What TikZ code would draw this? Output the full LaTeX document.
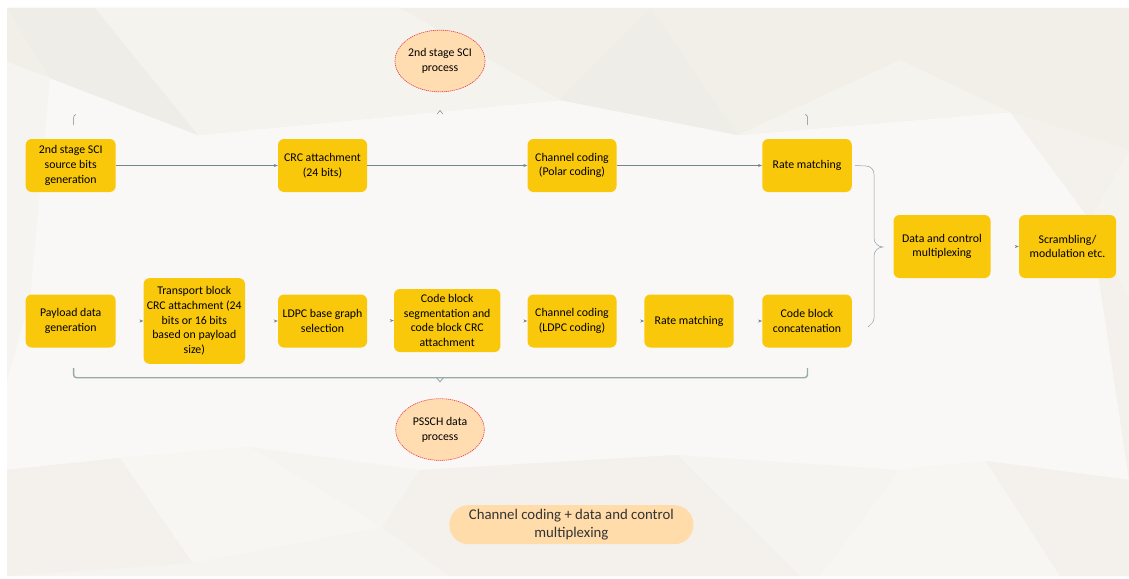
\documentclass[tikz,border=0pt]{standalone}
\usepackage{fontspec}
\setmainfont{Carlito}
\usetikzlibrary{arrows.meta,shapes.geometric,calc}
\definecolor{boxy}{HTML}{FAC80A}
\definecolor{peach}{HTML}{FFDDB0}
\definecolor{banner}{HTML}{FFDCAA}
\definecolor{redb}{HTML}{E8343C}
\definecolor{linec}{HTML}{6F878D}
\definecolor{bracec}{HTML}{98A9AC}
\definecolor{bglight}{HTML}{F9F8F6}
\definecolor{bgA}{HTML}{F2EFE8}
\definecolor{bgB}{HTML}{EFEDE7}
\definecolor{bgC}{HTML}{F5F3EE}
\definecolor{bgD}{HTML}{F4F1EC}
\definecolor{bgE}{HTML}{F6F4F0}
\begin{document}
\begin{tikzpicture}[x=1pt,y=-1pt,
  procbox/.style={rectangle, rounded corners=6pt, fill=boxy, draw=none, align=center,
    font=\fontsize{11.8}{14.7}\selectfont, inner sep=1pt, text=black},
  procell/.style={ellipse, fill=peach, draw=redb, line width=0.6pt, dash pattern=on 1.2pt off 0.8pt,
    minimum width=88.6pt, minimum height=61.7pt, inner sep=0pt, align=center,
    font=\fontsize{11.8}{14.7}\selectfont},
  conn/.style={draw=linec, line width=0.6pt, -{Stealth[length=4pt,width=3pt]}},
  ghost/.style={draw=bglight, line width=0.6pt, -{Stealth[length=4pt,width=3pt,color=linec]}},
  bracebig/.style={draw=bracec, line width=1.4pt},
  bracethin/.style={draw=linec, line width=0.5pt}
]
\useasboundingbox (0,0) rectangle (1129,578);
\fill[white] (0,0) rectangle (1129,578);
\fill[bglight] (7,8) rectangle (1129,576);
% background low-poly shapes
\fill[bgA] (7,8) -- (1129,8) -- (1129,150) -- (1010,112) -- (738,135) -- (560,100) -- (198,135) -- (50,78) -- (7,62) -- cycle;
\fill[bgB] (7,8) -- (95,8) -- (198,135) -- (50,78) -- cycle;
\fill[bgC] (95,8) -- (400,8) -- (560,100) -- (198,135) -- cycle;
\fill[bgB] (560,100) -- (650,8) -- (738,135) -- cycle;
\fill[bgC] (738,135) -- (900,60) -- (1010,112) -- cycle;
\fill[bgD] (1010,112) -- (1129,150) -- (1129,480) -- (1090,220) -- cycle;
\fill[bgC] (1129,150) -- (1129,300) -- (1090,220) -- cycle;
\fill[bgE] (7,62) -- (50,78) -- (30,300) -- (7,380) -- cycle;
\fill[bgE] (7,470) -- (120,458) -- (250,447) -- (420,470) -- (677,455) -- (900,470) -- (986,461) -- (1129,480) -- (1129,576) -- (7,576) -- cycle;
\fill[bgD] (7,470) -- (120,458) -- (193,563) -- (7,576) -- cycle;
\fill[bgE!60!bglight] (250,447) -- (382,527) -- (193,563) -- (120,458) -- cycle;
\fill[bgD] (382,527) -- (420,470) -- (677,455) -- (800,576) -- (450,576) -- cycle;
\fill[bgE!60!bglight] (900,470) -- (986,461) -- (1060,576) -- (820,576) -- cycle;
\fill[bgD] (986,461) -- (1129,480) -- (1129,576) -- (1060,576) -- cycle;

% nodes
\node[procbox, minimum width=90pt, minimum height=53pt] (src) at (70.7,165.5) {2nd stage SCI\\source bits\\generation};
\node[procbox, minimum width=89pt, minimum height=53pt] (crc) at (322.5,165.5) {CRC attachment\\(24 bits)};
\node[procbox, minimum width=89pt, minimum height=53pt] (polar) at (572,165.5) {Channel coding\\(Polar coding)};
\node[procbox, minimum width=89.5pt, minimum height=53pt] (rm1) at (807,165.5) {Rate matching};
\node[procbox, minimum width=97pt, minimum height=63pt] (dcm) at (942,246.5) {Data and control\\multiplexing};
\node[procbox, minimum width=97pt, minimum height=63pt] (scr) at (1067.5,246.5) {Scrambling/\\modulation etc.};
\node[procbox, minimum width=90pt, minimum height=53pt] (pay) at (70.7,321) {Payload data\\generation};
\node[procbox, minimum width=101.4pt, minimum height=85.7pt] (tb) at (194.3,321) {Transport block\\CRC attachment (24\\bits or 16 bits\\based on payload\\size)};
\node[procbox, minimum width=89pt, minimum height=53pt] (ldpcb) at (322.5,321) {LDPC base graph\\selection};
\node[procbox, minimum width=106.4pt, minimum height=63pt] (cbs) at (447.2,320.5) {Code block\\segmentation and\\code block CRC\\attachment};
\node[procbox, minimum width=89pt, minimum height=53pt] (chl) at (572,321) {Channel coding\\(LDPC coding)};
\node[procbox, minimum width=89.3pt, minimum height=53pt] (rm2) at (689,321) {Rate matching};
\node[procbox, minimum width=89.5pt, minimum height=53pt] (cbc) at (807,321) {Code block\\concatenation};
\node[procell] (e1) at (440,61) {2nd stage SCI\\process};
\node[procell] (e2) at (440,429.5) {PSSCH data\\process};
\node[rectangle, rounded corners=19pt, fill=banner, minimum width=244pt, minimum height=39pt, inner sep=0pt,
  align=center, text=black!80, font=\fontsize{14.8}{18.7}\selectfont] (ban) at (571.4,524.7) {Channel coding + data and control\\multiplexing};

% top row connectors
\draw[conn] (src.east) -- (crc.west);
\draw[conn] (crc.east) -- (polar.west);
\draw[conn] (polar.east) -- (rm1.west);
% bottom row connectors (tips only visible)
\draw[ghost] (pay.east) -- (tb.west);
\draw[ghost] (tb.east) -- (ldpcb.west);
\draw[ghost] (ldpcb.east) -- (cbs.west);
\draw[ghost] (cbs.east) -- (chl.west);
\draw[ghost] (chl.east) -- (rm2.west);
\draw[ghost] (rm2.east) -- (cbc.west);
\draw[ghost] (dcm.east) -- (scr.west);

% bottom brace
\draw[bracebig, rounded corners=3pt] (73.6,368) -- (73.6,377.7) -- (807.5,377.7) -- (807.5,368);
\draw[bracebig, line width=0.9pt] (436.5,377.7) -- (440,381.8) -- (443.5,377.7);
% top brace fragments
\draw[bracethin] (75.8,114.5) to[out=180,in=90] (73.6,118) -- (73.6,125);
\draw[bracethin] (805.3,114.5) to[out=0,in=90] (807.5,118) -- (807.5,125);
\draw[bracethin] (437.2,114) -- (440,110.5) -- (442.8,114);
% right brace
\draw[bracethin, draw=linec!80] ($(rm1.east)+(3,0)$) -- (866,166) to[out=0,in=90] (874,174) -- (874,238)
  to[out=-90,in=180] (883,247) to[out=180,in=90] (874,256) -- (874,318) to[out=-90,in=45] (868,327);
\end{tikzpicture}
\end{document}
